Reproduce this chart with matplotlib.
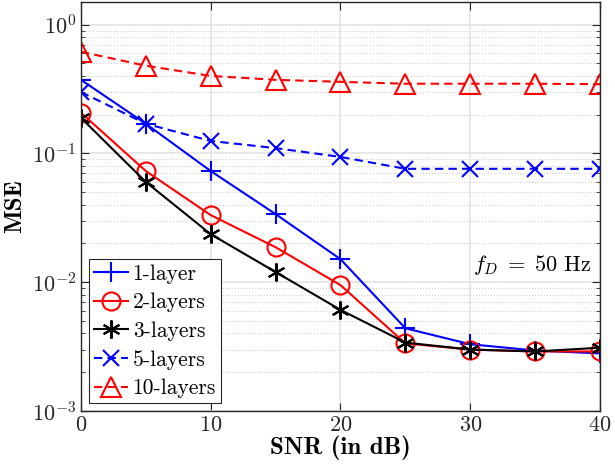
import numpy as np
import matplotlib
matplotlib.use("Agg")
import matplotlib.pyplot as plt
from matplotlib.ticker import LogLocator, NullFormatter

plt.rcParams['font.family'] = 'cmr10'
plt.rcParams['mathtext.fontset'] = 'cm'
plt.rcParams['axes.formatter.use_mathtext'] = True

snr = [0, 5, 10, 15, 20, 25, 30, 35, 40]
mse_1 = [0.373, 0.170, 0.073, 0.0338, 0.0151, 0.00439, 0.0033, 0.00295, 0.0028]
mse_2 = [0.207, 0.073, 0.0332, 0.0187, 0.0095, 0.00335, 0.0030, 0.0029, 0.0029]
mse_3 = [0.189, 0.060, 0.0236, 0.0120, 0.0061, 0.0034, 0.0030, 0.0029, 0.0031]
mse_5 = [0.300, 0.170, 0.125, 0.110, 0.094, 0.076, 0.076, 0.076, 0.076]
mse_10 = [0.616, 0.480, 0.400, 0.373, 0.360, 0.348, 0.348, 0.348, 0.345]

fig = plt.figure(figsize=(6.15, 4.67), dpi=100)
ax = fig.add_axes([0.1317, 0.1199, 0.8439, 0.8758])

lw = 1.5
dash = (4, 2.5)
ax.plot(snr, mse_1, '-', color='#0000ff', marker='+', ms=14, mew=1.5, lw=lw, label='1-layer')
ax.plot(snr, mse_2, '-', color='#ff0000', marker='o', ms=13, mew=1.5, mfc='none', lw=lw, label='2-layers')
ax.plot(snr, mse_3, '-', color='black', marker=(6, 2, 0), ms=13, mew=1.5, lw=lw, label='3-layers')
ax.plot(snr, mse_5, '--', dashes=dash, color='#0000ff', marker='x', ms=11, mew=1.5, lw=lw, label='5-layers')
ax.plot(snr, mse_10, '--', dashes=dash, color='#ff0000', marker='^', ms=15, mew=1.5, mfc='none', lw=lw, label='10-layers')

ax.set_yscale('log')
ax.set_xlim(0, 40)
ax.set_ylim(1e-3, 1.5)
ax.set_xticks([0, 10, 20, 30, 40])
ax.yaxis.set_major_locator(LogLocator(base=10, numticks=10))
ax.yaxis.set_minor_locator(LogLocator(base=10, subs=np.arange(2, 10), numticks=10))
ax.yaxis.set_minor_formatter(NullFormatter())

ax.grid(True, which='major', color='#e3e3e3', linestyle='-', linewidth=1.2)
ax.grid(True, which='minor', axis='y', color='#d0d0d0', linestyle=':', linewidth=0.8)
ax.set_axisbelow(True)

ax.tick_params(which='both', direction='in', top=True, right=True, labelsize=16, colors='#262626')
ax.tick_params(which='major', length=6)
ax.tick_params(which='minor', length=3)
for s in ax.spines.values():
    s.set_color('#262626')
    s.set_linewidth(1.0)

ax.set_xlabel('SNR (in dB)', fontfamily='cmb10', fontsize=18, labelpad=0)
ax.set_ylabel('MSE', fontfamily='cmb10', fontsize=18, labelpad=4)

ax.text(39.3, 0.0136, r'$f_D\;=\;50$ Hz', ha='right', va='center', fontsize=16)

leg = ax.legend(loc='lower left', fontsize=15.5, frameon=True, fancybox=False,
                edgecolor='#262626', framealpha=1, handlelength=1.6,
                handletextpad=0.2, borderpad=0.25, labelspacing=0.42,
                borderaxespad=0.35)
leg.get_frame().set_linewidth(0.8)

fig.savefig('out.png', dpi=100)
